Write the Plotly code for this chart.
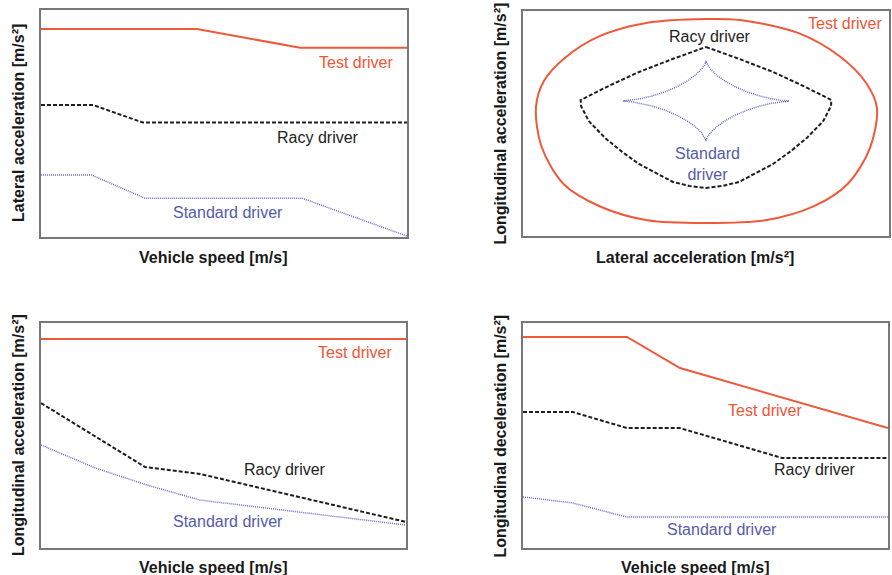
import plotly.graph_objects as go

# ---------------- data (normalised units) ----------------
# Panel 1: lateral acceleration vs vehicle speed
p1_test_x = [0, 42.6, 70.8, 100]
p1_test_y = [91.6, 91.6, 83.4, 83.4]
p1_racy_x = [0, 14.3, 27.9, 100]
p1_racy_y = [58.1, 58.1, 50.4, 50.4]
p1_std_x = [0, 13.8, 28.4, 71.3, 100]
p1_std_y = [27.3, 27.3, 17.1, 17.1, 0.4]

# Panel 2: g-g diagram (lateral vs longitudinal acceleration)
p2_test_x = [0, 1.86, 5.03, 7.32, 8.75, 9.34, 8.96, 7.75, 5.9, 3.25, 0,
             -3.2, -5.75, -7.8, -9.0, -9.29, -8.85, -7.7, -5.9, -3.2, 0]
p2_test_y = [7.29, 7.2, 6.05, 3.95, 1.6, -0.62, -4.18, -7.35, -9.35, -10.6, -10.84,
             -10.6, -9.4, -7.35, -4.0, -0.53, 1.8, 3.85, 5.7, 6.95, 7.29]
p2_racy_x = [0, 1.8, 3.66, 5.3, 6.85, 6.83, 6.4, 5.5, 4.6, 3.66, 1.8, 0.9, 0,
             -0.9, -1.8, -3.66, -4.6, -5.5, -6.4, -6.83, -6.85, -5.3, -3.66, -1.8, 0]
p2_racy_y = [4.8, 3.75, 2.58, 1.35, 0.09, -0.44, -1.8, -3.3, -4.5, -5.6, -7.2, -7.55, -7.73,
             -7.55, -7.2, -5.6, -4.5, -3.3, -1.8, -0.44, 0.09, 1.35, 2.58, 3.75, 4.8]
p2_std_x = [4.54, 4.43, 4.09, 3.58, 2.95, 2.27, 1.6, 1.02, 0.57, 0.25, 0.08, 0.01, 0,
            -0.01, -0.08, -0.25, -0.57, -1.02, -1.6, -2.27, -2.95, -3.58, -4.09, -4.43, -4.54,
            -4.43, -4.09, -3.58, -2.95, -2.27, -1.6, -1.02, -0.57, -0.25, -0.08, -0.01, 0,
            0.01, 0.08, 0.25, 0.57, 1.02, 1.6, 2.27, 2.95, 3.58, 4.09, 4.43, 4.54]
p2_std_y = [0, 0.01, 0.06, 0.2, 0.44, 0.8, 1.26, 1.78, 2.31, 2.81, 3.21, 3.47, 3.56,
            3.47, 3.21, 2.81, 2.31, 1.78, 1.26, 0.8, 0.44, 0.2, 0.06, 0.01, 0,
            -0.01, -0.06, -0.2, -0.44, -0.8, -1.26, -1.78, -2.31, -2.81, -3.21, -3.47, -3.56,
            -3.47, -3.21, -2.81, -2.31, -1.78, -1.26, -0.8, -0.44, -0.2, -0.06, -0.01, 0]

# Panel 3: longitudinal acceleration vs vehicle speed
p3_test_x = [0, 100]
p3_test_y = [92.9, 92.9]
p3_racy_x = [0, 28.5, 43.6, 100]
p3_racy_y = [64.4, 36, 32.9, 11.6]
p3_std_x = [0, 14.8, 29, 43.6, 100]
p3_std_y = [45.8, 35.6, 28, 21.3, 10.2]

# Panel 4: longitudinal deceleration vs vehicle speed
p4_test_x = [0, 28.5, 43, 100]
p4_test_y = [93.8, 93.8, 80, 53.3]
p4_racy_x = [0, 13.7, 28.5, 43, 71, 100]
p4_racy_y = [60.4, 60.4, 53.3, 53.3, 40, 40]
p4_std_x = [0, 13.7, 28.5, 100]
p4_std_y = [22.7, 20, 13.8, 13.8]

labels = ["Test driver", "Racy driver", "Standard driver"]

# ---------------- styling ----------------
RED = "rgb(240,88,58)"
BLACK = "rgb(30,30,30)"
BLUE = "rgb(105,108,200)"
TXT_RED = "rgb(240,85,55)"
TXT_BLK = "rgb(35,35,35)"
TXT_BLU = "rgb(85,90,175)"
FONT = "Liberation Sans, Arial, sans-serif"

W, H = 892, 575

def px_x(p):
    return p / W

def px_y(p):
    return 1 - p / H

fig = go.Figure()

def add_lines(n, tx, ty, rx, ry, sx, sy, red_shape="linear"):
    xa = "x" if n == 1 else f"x{n}"
    ya = "y" if n == 1 else f"y{n}"
    red_line = dict(color=RED, width=2, shape=red_shape)
    if red_shape == "spline":
        red_line["smoothing"] = 0.9
    fig.add_trace(go.Scatter(x=tx, y=ty, mode="lines", xaxis=xa, yaxis=ya,
                             line=red_line, name=labels[0]))
    fig.add_trace(go.Scatter(x=rx, y=ry, mode="lines", xaxis=xa, yaxis=ya,
                             line=dict(color=BLACK, width=2, dash="4px,2px"), name=labels[1]))
    fig.add_trace(go.Scatter(x=sx, y=sy, mode="lines", xaxis=xa, yaxis=ya,
                             line=dict(color=BLUE, width=1.5, dash="1px,1px"), name=labels[2]))

add_lines(1, p1_test_x, p1_test_y, p1_racy_x, p1_racy_y, p1_std_x, p1_std_y)
add_lines(2, p2_test_x, p2_test_y, p2_racy_x, p2_racy_y, p2_std_x, p2_std_y, red_shape="spline")
add_lines(3, p3_test_x, p3_test_y, p3_racy_x, p3_racy_y, p3_std_x, p3_std_y)
add_lines(4, p4_test_x, p4_test_y, p4_racy_x, p4_racy_y, p4_std_x, p4_std_y)

axcommon = dict(showgrid=False, zeroline=False, showticklabels=False, ticks="",
                showline=True, mirror=True, linecolor="rgb(120,120,120)", linewidth=1.5,
                fixedrange=True)

# panel frames in pixels: (left, right, top, bottom)
frames = {
    1: (41, 407, 10, 237),
    2: (523, 889, 11, 236),
    3: (41, 406, 323, 548),
    4: (523, 888, 323, 548),
}
ranges = {
    1: ([0, 100], [0, 100]),
    2: ([-10, 10], [-12, 8]),
    3: ([0, 100], [0, 100]),
    4: ([0, 100], [0, 100]),
}
layout_axes = {}
for n, (l, r, t, b) in frames.items():
    xr, yr = ranges[n]
    xk = "xaxis" if n == 1 else f"xaxis{n}"
    yk = "yaxis" if n == 1 else f"yaxis{n}"
    layout_axes[xk] = dict(axcommon, domain=[px_x(l), px_x(r)], range=xr,
                           anchor="y" if n == 1 else f"y{n}")
    layout_axes[yk] = dict(axcommon, domain=[px_y(b), px_y(t)], range=yr,
                           anchor="x" if n == 1 else f"x{n}")

fig.update_layout(width=W, height=H, margin=dict(l=0, r=0, t=0, b=0),
                  paper_bgcolor="white", plot_bgcolor="white", showlegend=False,
                  font=dict(family=FONT), **layout_axes)

ann = []
def curve_label(n, x, y, text, color):
    xa = "x" if n == 1 else f"x{n}"
    ya = "y" if n == 1 else f"y{n}"
    ann.append(dict(x=x, y=y, xref=xa, yref=ya, text=text, showarrow=False,
                    xanchor="center", yanchor="middle",
                    font=dict(family=FONT, size=16, color=color)))

curve_label(1, 86, 77, labels[0], TXT_RED)
curve_label(1, 75.7, 44, labels[1], TXT_BLK)
curve_label(1, 51, 11, labels[2], TXT_BLU)

curve_label(2, 7.6, 6.93, labels[0], TXT_RED)
curve_label(2, 0.2, 5.69, labels[1], TXT_BLK)
curve_label(2, 0.1, -5.56, "Standard<br>driver", TXT_BLU)

curve_label(3, 86, 86.7, labels[0], TXT_RED)
curve_label(3, 66.8, 34.7, labels[1], TXT_BLK)
curve_label(3, 51.2, 11.6, labels[2], TXT_BLU)

curve_label(4, 66.3, 61.3, labels[0], TXT_RED)
curve_label(4, 80, 34.7, labels[1], TXT_BLK)
curve_label(4, 54.5, 8.4, labels[2], TXT_BLU)

def axis_title(xp, yp, text, angle=0):
    ann.append(dict(x=px_x(xp), y=px_y(yp), xref="paper", yref="paper", text=f"<b>{text}</b>",
                    showarrow=False, xanchor="center", yanchor="middle", textangle=angle,
                    font=dict(family=FONT, size=16, color="rgb(25,25,25)")))

axis_title(213, 257, "Vehicle speed [m/s]")
axis_title(18.5, 123.5, "Lateral acceleration [m/s²]", -90)
axis_title(695, 257, "Lateral acceleration [m/s²]")
axis_title(500, 123.5, "Longitudinal acceleration [m/s²]", -90)
axis_title(213, 567, "Vehicle speed [m/s]")
axis_title(18.5, 435.5, "Longitudinal acceleration [m/s²]", -90)
axis_title(695, 567, "Vehicle speed [m/s]")
axis_title(500, 435.5, "Longitudinal deceleration [m/s²]", -90)

fig.update_layout(annotations=ann)
fig.write_html("out.html", config={"displayModeBar": False},
               post_script="document.body.style.margin='0px';document.body.style.overflow='hidden';")
